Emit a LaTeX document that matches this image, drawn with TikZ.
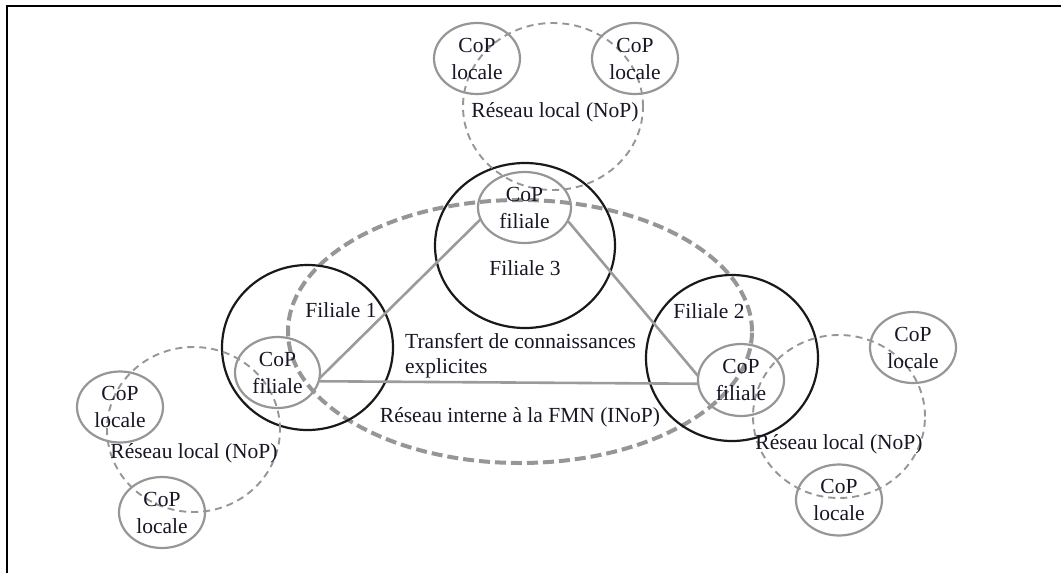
\documentclass[tikz,border=0pt]{standalone}
\usepackage{fontspec}
\setmainfont{Liberation Serif}
\usetikzlibrary{shapes.geometric}
\definecolor{cg}{RGB}{150,150,150}
\definecolor{fb}{RGB}{25,25,25}
\definecolor{lg}{RGB}{155,155,155}
\definecolor{tx}{RGB}{22,22,36}
\begin{document}
\begin{tikzpicture}[x=1pt,y=-1pt,
  cop/.style={ellipse, draw=cg, line width=2.2pt, minimum width=86pt, minimum height=71pt, inner sep=0pt, outer sep=0pt, align=center, text=tx, font=\fontsize{21.5}{27}\selectfont},
  fil/.style={ellipse, draw=fb, line width=2.2pt, inner sep=0pt},
  nop/.style={ellipse, draw=cg, line width=1.9pt, dash pattern=on 7pt off 5pt, inner sep=0pt},
  inop/.style={ellipse, draw=cg, line width=4pt, dash pattern=on 11pt off 5pt, inner sep=0pt},
  lbl/.style={inner sep=0pt, text=tx, font=\fontsize{21.5}{25}\selectfont},
  link/.style={draw=lg, line width=2.6pt},
  frame/.style={draw=black, line width=2pt}]
\useasboundingbox (0,0) rectangle (1061,573);
% frame
\coordinate (fa) at (7,573);
\coordinate (fb) at (7,6);
\coordinate (fc) at (1061,6);
\draw[frame] (fa) -- (fb) -- (fc);
% big containers
\node[inop, minimum width=464pt, minimum height=263pt] (inop) at (520,331.5) {};
\node[fil, minimum width=180pt, minimum height=165pt] (f3) at (525,245.5) {};
\node[fil, minimum width=171pt, minimum height=165pt] (f1) at (307.5,347.5) {};
\node[fil, minimum width=172pt, minimum height=166pt] (f2) at (732,358) {};
% local networks
\node[nop, minimum width=180pt, minimum height=167pt] (nopt) at (553,106.5) {};
\node[nop, minimum width=173pt, minimum height=165pt] (nopl) at (193.5,429.5) {};
\node[nop, minimum width=172pt, minimum height=163pt] (nopr) at (839,416.5) {};
% CoP filiales
\node[cop, minimum width=93pt] (cf3) at (524.5,207.5) {CoP\\filiale};
\node[cop, minimum width=85pt] (cf1) at (277.5,372.5) {CoP\\filiale};
\node[cop, minimum height=72pt] (cf2) at (741,380) {CoP\\filiale};
% CoP locales
\node[cop] (ltl) at (477,58.5) {CoP\\locale};
\node[cop] (ltr) at (635,58.5) {CoP\\locale};
\node[cop] (ll1) at (120,407) {CoP\\locale};
\node[cop] (ll2) at (162,512.5) {CoP\\locale};
\node[cop] (lr1) at (913,347.5) {CoP\\locale};
\node[cop] (lr2) at (839,500) {CoP\\locale};
% links
\draw[link] (cf1.-8) -- (cf3.195);
\draw[link] (cf1.-12) -- (cf2.185);
\draw[link] (cf3.-17) -- (cf2.175);
% labels
\node[lbl] (t3) at (525,268) {Filiale 3};
\node[lbl] (t1) at (341,310) {Filiale 1};
\node[lbl] (t2) at (709,311) {Filiale 2};
\node[lbl] (rt) at (555,112) {Réseau local (NoP)};
\node[lbl] (rl) at (194,453) {Réseau local (NoP)};
\node[lbl] (rr) at (839,444) {Réseau local (NoP)};
\node[lbl, anchor=west, align=left] (tr) at (405,355.5) {Transfert de connaissances\\explicites};
\node[lbl] (ri) at (520,417) {Réseau interne à la FMN (INoP)};
\end{tikzpicture}
\end{document}
